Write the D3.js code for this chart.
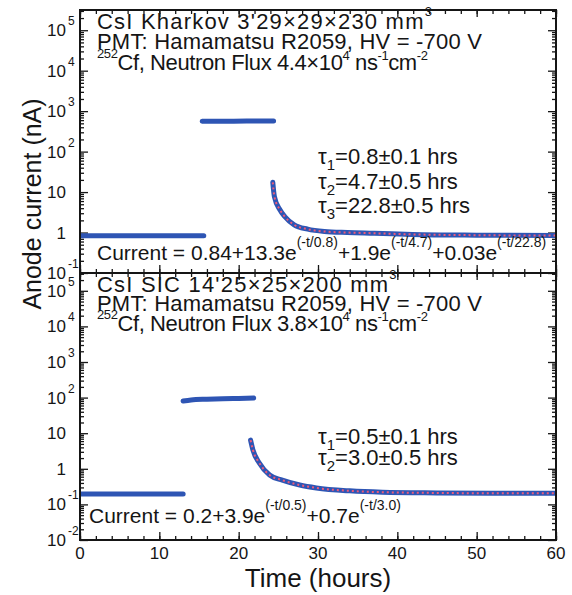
<!DOCTYPE html>
<html>
<head>
<meta charset="utf-8">
<script src="https://cdn.jsdelivr.net/npm/d3@7"></script>
<style>
  body { margin: 0; background: #fff; }
  text { font-family: "Liberation Sans", Arial, sans-serif; fill: #151515; }
</style>
</head>
<body>
<div class="chart"></div>
<script>
// ---- data (time in hours, current in nA) ----
var xTickValues = [0, 10, 20, 30, 40, 50, 60];

// top panel: CsI Kharkov
var topBaseline = [[0, 0.83], [4, 0.83], [8, 0.83], [12, 0.83], [15.6, 0.83]];
var topIrradiation = [[15.4, 560], [18, 565], [21, 568], [24.4, 568]];
var topDecay = [[24.3, 17.4], [24.5, 7.8], [25.2, 3.66], [25.8, 2.49], [27.0, 1.55],
  [28.7, 1.21], [30.8, 1.06], [33.7, 1.0], [37.1, 0.96], [41.9, 0.9], [50, 0.86], [60, 0.84]];
var topFit = topDecay; // fit curve lies on top of the data
var topExponents = [5, 4, 3, 2, 1, 0, -1];

// bottom panel: CsI SIC
var botBaseline = [[0, 0.196], [4, 0.196], [8, 0.196], [13, 0.196]];
var botIrradiation = [[13, 80], [14, 86], [16, 90], [18, 93], [20, 95], [21.9, 97]];
var botDecay = [[21.5, 6.4], [21.8, 3.37], [22.6, 1.46], [23.9, 0.67], [25.5, 0.48],
  [27.7, 0.35], [29.8, 0.29], [34, 0.24], [38.1, 0.22], [45, 0.21], [52, 0.205], [60, 0.205]];
var botFit = botDecay;
var botExponents = [5, 4, 3, 2, 1, 0, -1, -2];

// ---- layout ----
var svgWidth = 572;
var svgHeight = 595;
var plotLeft = 80;
var plotRight = 556;

var svg = d3.select(".chart")
  .append("svg")
  .attr("width", svgWidth)
  .attr("height", svgHeight);

var xScale = d3.scaleLinear().domain([0, 60]).range([plotLeft, plotRight]);

// helper for text with super/subscripts: parts = [text, offset, size]
function rich(sel, x, y, parts, size, spacing) {
  var t = sel.append("text").attr("x", x).attr("y", y).style("font-size", size + "px");
  if (spacing) t.style("letter-spacing", spacing + "px");
  var shift = 0;
  parts.forEach(function(p) {
    var s = p[1] || 0;
    var ts = t.append("tspan").attr("dy", s - shift).text(p[0]);
    if (p[2]) ts.style("font-size", p[2] + "px");
    shift = s;
  });
  return t;
}

function minorValues(lo, hi) {
  var vals = [];
  for (var e = lo; e <= hi; e++) {
    for (var k = 2; k <= 9; k++) vals.push(k * Math.pow(10, e));
  }
  return vals;
}

function drawPanel(cfg) {
  var y = d3.scaleLog().domain(cfg.domain).range([cfg.bottom, cfg.top]);
  var g = svg.append("g");

  var clipId = "clip" + cfg.top;
  svg.append("clipPath").attr("id", clipId)
    .append("rect")
    .attr("x", plotLeft).attr("y", cfg.top)
    .attr("width", plotRight - plotLeft).attr("height", cfg.bottom - cfg.top);

  // ticks, all pointing inward
  var majors = cfg.exps.map(e => Math.pow(10, e));
  var minors = minorValues(cfg.exps[cfg.exps.length - 1], 5).filter(v => v <= cfg.domain[1]);
  var xMinor = d3.range(0, 61, 2);

  function addAxis(axis, tx, ty) {
    var a = g.append("g").attr("transform", `translate(${tx},${ty})`).call(axis);
    a.select(".domain").remove();
    a.selectAll("line").attr("stroke", "#151515").attr("stroke-width", 1.3);
  }
  addAxis(d3.axisLeft(y).tickValues(minors).tickSize(-4).tickFormat(""), plotLeft, 0);
  addAxis(d3.axisLeft(y).tickValues(majors).tickSize(-8).tickFormat(""), plotLeft, 0);
  addAxis(d3.axisRight(y).tickValues(minors).tickSize(-4).tickFormat(""), plotRight, 0);
  addAxis(d3.axisRight(y).tickValues(majors).tickSize(-8).tickFormat(""), plotRight, 0);
  addAxis(d3.axisBottom(xScale).tickValues(xMinor).tickSize(-4).tickFormat(""), 0, cfg.bottom);
  addAxis(d3.axisBottom(xScale).tickValues(xTickValues).tickSize(-8).tickFormat(""), 0, cfg.bottom);
  addAxis(d3.axisTop(xScale).tickValues(xMinor).tickSize(-4).tickFormat(""), 0, cfg.top);
  addAxis(d3.axisTop(xScale).tickValues(xTickValues).tickSize(-7).tickFormat(""), 0, cfg.top);

  // y tick labels
  cfg.exps.forEach(function(e) {
    var yy = y(Math.pow(10, e));
    var main = e === 0 ? "1" : "10";
    g.append("text")
      .attr("x", 66).attr("y", yy + 6)
      .attr("text-anchor", "end")
      .style("font-size", "17px")
      .text(main);
    if (e !== 0 && e !== 1) {
      g.append("text")
        .attr("x", 68).attr("y", yy - 5)
        .style("font-size", "12px")
        .text(e);
    }
  });

  // data
  var line = d3.line()
    .x(d => xScale(d[0]))
    .y(d => y(d[1]))
    .curve(d3.curveMonotoneX);

  var dataG = g.append("g").attr("clip-path", `url(#${clipId})`);
  [cfg.baseline, cfg.irradiation, cfg.decay].forEach(function(s) {
    dataG.append("path")
      .datum(s)
      .attr("d", line)
      .attr("fill", "none")
      .attr("stroke", "#2e55b4")
      .attr("stroke-width", 5)
      .attr("stroke-linecap", "round");
  });
  dataG.append("path")
    .datum(cfg.fit)
    .attr("d", line)
    .attr("fill", "none")
    .attr("stroke", "#ee5a78")
    .attr("stroke-width", 2)
    .attr("stroke-dasharray", "2,3");

  // frame
  g.append("rect")
    .attr("x", plotLeft).attr("y", cfg.top)
    .attr("width", plotRight - plotLeft).attr("height", cfg.bottom - cfg.top)
    .attr("fill", "none")
    .attr("stroke", "#151515")
    .attr("stroke-width", 2);

  // annotations
  cfg.header.forEach(function(h) { rich(g, 97, h.y, h.parts, 22, h.spacing); });
  cfg.taus.forEach(function(tline) { rich(g, 318, tline.y, tline.parts, 22); });
  rich(g, cfg.formulaX, cfg.formulaY, cfg.formula, 21);

  return y;
}

drawPanel({
  top: 10, bottom: 273,
  domain: [0.1, Math.pow(10, 5.5)],
  exps: topExponents,
  baseline: topBaseline, irradiation: topIrradiation, decay: topDecay, fit: topFit,
  header: [
    {y: 29, spacing: 1.2, parts: [["CsI Kharkov 3'29×29×230 mm"], ["3", -13, 13]]},
    {y: 49, spacing: 0.2, parts: [["PMT: Hamamatsu R2059, HV = -700 V"]]},
    {y: 70, spacing: -0.4, parts: [["252", -12, 13], ["Cf, Neutron Flux 4.4×10"], ["4", -10, 13], [" ns"], ["-1", -10, 13], ["cm"], ["-2", -10, 13]]}
  ],
  taus: [
    {y: 164, parts: [["τ"], ["1", 6, 15], ["=0.8±0.1 hrs"]]},
    {y: 189, parts: [["τ"], ["2", 6, 15], ["=4.7±0.5 hrs"]]},
    {y: 213, parts: [["τ"], ["3", 6, 15], ["=22.8±0.5 hrs"]]}
  ],
  formulaX: 97, formulaY: 260,
  formula: [["Current = 0.84+13.3e"], ["(-t/0.8)", -13, 14], ["+1.9e"], ["(-t/4.7)", -13, 14],
    ["+0.03e"], ["(-t/22.8)", -13, 14]]
});

drawPanel({
  top: 273, bottom: 540,
  domain: [0.01, Math.pow(10, 5.5)],
  exps: botExponents,
  baseline: botBaseline, irradiation: botIrradiation, decay: botDecay, fit: botFit,
  header: [
    {y: 292, spacing: 1.2, parts: [["CsI SIC 14'25×25×200 mm"], ["3", -13, 13]]},
    {y: 311, spacing: 0.2, parts: [["PMT: Hamamatsu R2059, HV = -700 V"]]},
    {y: 331, spacing: -0.4, parts: [["252", -12, 13], ["Cf, Neutron Flux 3.8×10"], ["4", -10, 13], [" ns"], ["-1", -10, 13], ["cm"], ["-2", -10, 13]]}
  ],
  taus: [
    {y: 444, parts: [["τ"], ["1", 6, 15], ["=0.5±0.1 hrs"]]},
    {y: 465, parts: [["τ"], ["2", 6, 15], ["=3.0±0.5 hrs"]]}
  ],
  formulaX: 89, formulaY: 523,
  formula: [["Current = 0.2+3.9e"], ["(-t/0.5)", -13, 14], ["+0.7e"], ["(-t/3.0)", -13, 14]]
});

// x tick labels
svg.append("g").selectAll("text")
  .data(xTickValues)
  .enter()
  .append("text")
  .attr("x", d => xScale(d))
  .attr("y", 559)
  .attr("text-anchor", "middle")
  .style("font-size", "17px")
  .text(d => d);

// axis titles
svg.append("text")
  .attr("x", (plotLeft + plotRight) / 2)
  .attr("y", 587)
  .attr("text-anchor", "middle")
  .style("font-size", "26px")
  .text("Time (hours)");

svg.append("text")
  .attr("transform", "translate(41,204) rotate(-90)")
  .attr("text-anchor", "middle")
  .style("font-size", "25px")
  .text("Anode current (nA)");
</script>
</body>
</html>
